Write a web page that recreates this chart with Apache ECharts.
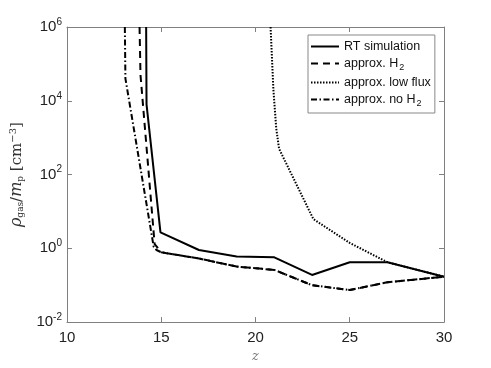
<!DOCTYPE html>
<html lang="en">
<head>
    <meta charset="utf-8">
    <script src="https://cdn.jsdelivr.net/npm/echarts@6.0.0/dist/echarts.min.js"></script>
    <style>
        html, body { margin: 0; padding: 0; background: #fff; }
        #main { width: 491px; height: 368px; }
    </style>
</head>
<body>
<div id="main"></div>
<script>
    // redshift z vs gas density
    var rtZ = [14.2, 14.22, 14.96, 17, 19, 21, 23, 25, 27, 30];
    var rtRho = [1e6, 8e3, 2.7, 0.9, 0.6, 0.57, 0.19, 0.42, 0.42, 0.17];

    var h2Z = [13.85, 13.9, 14.65, 15, 17, 19, 21, 23, 25, 27, 30];
    var h2Rho = [1e6, 5e4, 1.3, 0.78, 0.53, 0.32, 0.26, 0.10, 0.074, 0.12, 0.17];

    var lowZ = [20.8, 20.95, 21.1, 21.25, 23.07, 25, 27, 30];
    var lowRho = [1e6, 2e4, 1.8e3, 500, 6.2, 1.4, 0.42, 0.17];

    var noH2Z = [13.07, 13.1, 14.6, 14.75, 15, 17, 19, 21, 23, 25, 27, 30];
    var noH2Rho = [1e6, 4e4, 1.1, 0.9, 0.78, 0.53, 0.32, 0.26, 0.10, 0.074, 0.12, 0.17];

    var names = ['RT simulation', 'approx. H2', 'approx. low flux', 'approx. no H2'];
    var xTicks = [10, 15, 20, 25, 30];

    function pairs(xs, ys) {
        var out = [];
        for (let i = 0; i < xs.length; i++) out.push([xs[i], ys[i]]);
        return out;
    }

    var font = 'Liberation Sans, Arial, sans-serif';
    var serif = 'DejaVu Serif, serif';
    var axisGrey = '#808080';

    var myChart = echarts.init(document.getElementById('main'));
    myChart.setOption({
        backgroundColor: '#fff',
        animation: false,
        grid: { left: 64, right: 47, top: 27, bottom: 41 },
        legend: {
            orient: 'vertical',
            left: 308,
            top: 35,
            data: names,
            backgroundColor: '#fff',
            borderColor: '#888',
            borderWidth: 1,
            borderRadius: 0,
            padding: [5, 4, 5, 2],
            itemGap: 4,
            itemWidth: 28,
            itemHeight: 14,
            itemStyle: { opacity: 0 },
            textStyle: {
                fontFamily: font,
                fontSize: 12.5,
                color: '#111',
                rich: {
                    t: { fontFamily: font, fontSize: 12.5, color: '#111' },
                    s: { fontFamily: font, fontSize: 9, color: '#111', padding: [8, 0, 0, 1] }
                }
            },
            formatter: function (name) {
                if (name.slice(-2) === 'H2') {
                    return '{t|' + name.slice(0, -1) + '}{s|2}';
                }
                return '{t|' + name + '}';
            }
        },
        xAxis: [{
            type: 'value',
            min: 10,
            max: 30,
            interval: 5,
            name: 'z',
            nameLocation: 'middle',
            nameGap: 24,
            nameTextStyle: {
                fontFamily: serif,
                fontStyle: 'italic',
                fontSize: 13,
                color: '#777'
            },
            axisLine: { lineStyle: { color: axisGrey, width: 1 } },
            axisTick: { inside: true, length: 5, lineStyle: { color: axisGrey } },
            axisLabel: {
                fontFamily: font,
                fontSize: 15,
                color: '#222',
                margin: 8,
                formatter: function (v) { return xTicks.indexOf(v) >= 0 ? String(v) : ''; }
            },
            splitLine: { show: false }
        }, {
            type: 'value',
            position: 'top',
            min: 10,
            max: 30,
            interval: 5,
            axisLine: { show: true, lineStyle: { color: axisGrey, width: 1 } },
            axisTick: { show: true, inside: true, length: 5, lineStyle: { color: axisGrey } },
            axisLabel: { show: false },
            splitLine: { show: false }
        }],
        yAxis: [{
            type: 'log',
            logBase: 10,
            min: 0.01,
            max: 1e6,
            interval: 2,
            name: '{i|ρ}{sb|gas}{n|/}{i|m}{sb|p}{n| [cm}{sp|−3}{n|]}',
            nameLocation: 'middle',
            nameGap: 28,
            nameTextStyle: {
                color: '#333',
                rich: {
                    i: { fontFamily: serif, fontStyle: 'italic', fontSize: 16, color: '#333' },
                    n: { fontFamily: serif, fontSize: 15, color: '#333' },
                    sb: { fontFamily: serif, fontSize: 9, color: '#333', padding: [8, 0, 0, 0] },
                    sp: { fontFamily: serif, fontSize: 10, color: '#333', padding: [0, 0, 8, 0] }
                }
            },
            axisLine: { show: true, lineStyle: { color: axisGrey, width: 1 } },
            axisTick: { show: true, inside: true, length: 5, lineStyle: { color: axisGrey } },
            axisLabel: {
                margin: 5,
                formatter: function (v) {
                    var e = Math.round(Math.log10(v));
                    return '{b|10}{s|' + e + '}';
                },
                rich: {
                    b: { fontFamily: font, fontSize: 15, color: '#222' },
                    s: { fontFamily: font, fontSize: 10, color: '#222', padding: [0, 0, 10, 0] }
                }
            },
            splitLine: { show: false },
            minorTick: { show: false }
        }, {
            type: 'log',
            logBase: 10,
            min: 0.01,
            max: 1e6,
            interval: 2,
            position: 'right',
            axisLine: { show: true, lineStyle: { color: axisGrey, width: 1 } },
            axisTick: { show: true, inside: true, length: 5, lineStyle: { color: axisGrey } },
            axisLabel: { show: false },
            splitLine: { show: false }
        }],
        series: [{
            name: names[0],
            type: 'line',
            symbol: 'none',
            data: pairs(rtZ, rtRho),
            color: '#000',
            lineStyle: { color: '#000', width: 2, type: 'solid' },
            z: 4
        }, {
            name: names[1],
            type: 'line',
            symbol: 'none',
            data: pairs(h2Z, h2Rho),
            color: '#000',
            lineStyle: { color: '#000', width: 2, type: [7, 5] },
            z: 3
        }, {
            name: names[2],
            type: 'line',
            symbol: 'none',
            data: pairs(lowZ, lowRho),
            color: '#000',
            lineStyle: { color: '#000', width: 2, type: [1.5, 1.5] },
            z: 2
        }, {
            name: names[3],
            type: 'line',
            symbol: 'none',
            data: pairs(noH2Z, noH2Rho),
            color: '#000',
            lineStyle: { color: '#000', width: 2, type: [6, 2.5, 1.5, 2.5] },
            z: 3
        }]
    });
</script>
</body>
</html>
